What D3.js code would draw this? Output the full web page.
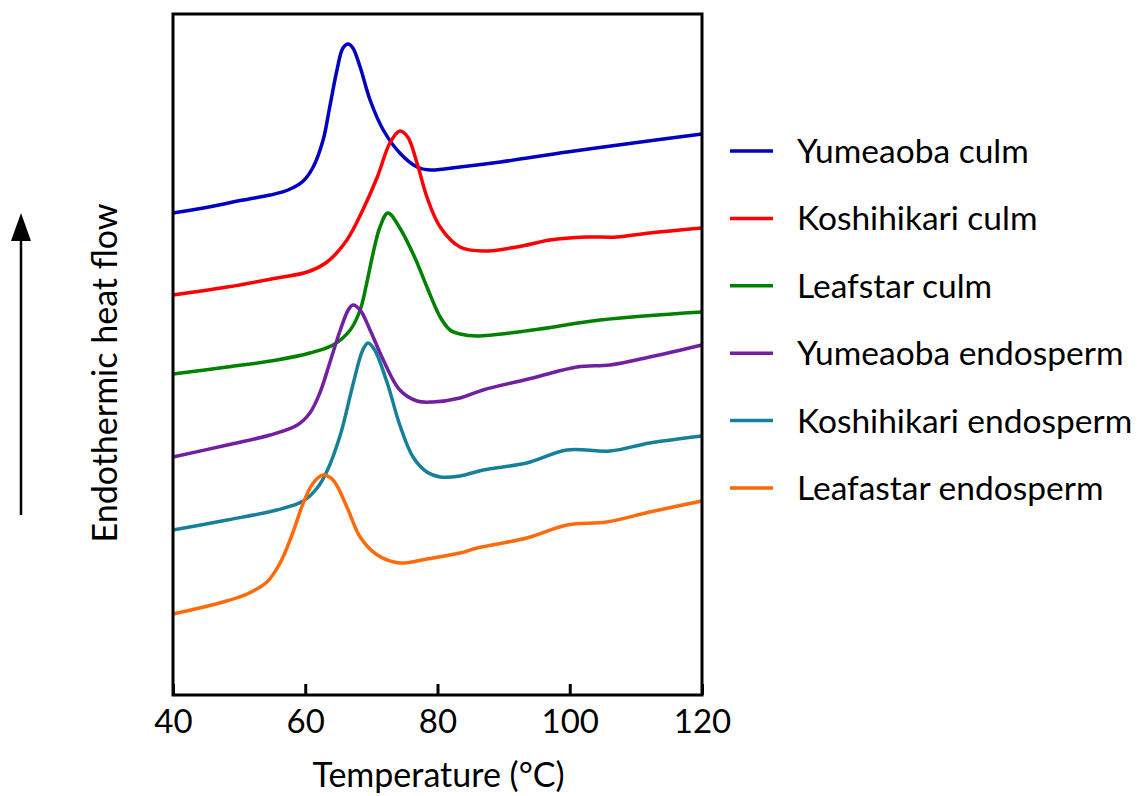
<!DOCTYPE html>
<html><head><meta charset="utf-8">
<script src="https://cdn.jsdelivr.net/npm/d3@7"></script>
<style>body{margin:0;background:#fff}svg{display:block}text{font-family:Lato,"Open Sans",sans-serif;fill:#000}</style>
</head><body>
<script>
// Temperature (°C) and heat flow (arbitrary units) for each DSC trace
const tYumeaobaCulm = [40,44.6,50.6,54.7,57.4,59.7,61.2,62.7,63.7,64.8,65.7,66.5,67.2,68.3,69.8,71.8,74.3,76.9,78.9,83.4,89.5,99.6,109.6,120];
const yumeaobaCulm = [48.2,48.7,49.5,50.0,50.5,51.4,52.8,55.5,58.8,62.5,64.7,65.1,64.7,62.8,59.5,56.5,54.2,52.8,52.5,52.8,53.3,54.3,55.2,56.1];

const tKoshihikariCulm = [40,48.2,55.7,60.3,63.3,66.3,68.7,70.9,72.8,74.3,75.5,76.9,78.4,80.4,83.4,86.9,92.0,97.0,102.6,107.1,112.1,120];
const koshihikariCulm = [40.0,40.8,41.7,42.3,43.3,45.5,48.5,51.8,55.2,56.4,55.8,53.2,49.8,46.8,44.8,44.4,44.8,45.5,45.8,45.8,46.2,46.7];

const tLeafstarCulm = [40,48.2,55.7,60.7,64.2,66.8,68.3,69.3,70.2,71.3,72.5,74.3,76.6,78.4,80.4,81.9,83.4,86.0,94.4,104.6,120];
const leafstarCulm = [32.1,32.8,33.5,34.2,35.0,36.5,38.5,41.2,44.0,46.8,48.2,46.7,43.7,40.8,37.8,36.5,36.1,35.9,36.5,37.5,38.3];

const tYumeaobaEndo = [40,48.2,54.7,58.8,60.7,62.2,63.7,65.3,66.5,67.2,68.3,69.8,71.8,74.3,76.9,79.3,83.4,86.9,94.4,101.1,106.1,112.1,120];
const yumeaobaEndo = [23.8,25.0,26.0,27.0,28.2,30.2,33.2,36.5,38.5,39.0,38.5,36.5,33.5,30.5,29.4,29.3,29.7,30.5,31.7,32.8,33.0,33.8,35.0];

const tKoshihikariEndo = [40,48.2,55.7,59.7,61.8,63.3,65.3,67.2,68.7,69.5,70.5,72.4,74.3,76.3,78.4,80.4,83.4,86.9,93.5,99.6,106.1,112.1,120];
const koshihikariEndo = [16.5,17.5,18.5,19.4,20.7,22.4,26.0,31.0,34.5,35.2,34.5,31.2,27.0,23.8,22.3,21.8,21.9,22.5,23.2,24.5,24.4,25.2,25.9];

const tLeafastarEndo = [40,47.6,51.2,54.2,56.2,58.1,59.7,61.2,62.7,64.2,66.3,68.3,70.9,74.3,78.4,83.4,86.0,93.5,99.6,105.6,112.1,120];
const leafastarEndo = [8.1,9.3,10.1,11.3,13.2,16.2,19.2,21.2,22.0,21.5,18.8,15.8,14.0,13.2,13.6,14.2,14.7,15.7,17.0,17.3,18.3,19.4];

const seriesNames = ["Yumeaoba culm","Koshihikari culm","Leafstar culm","Yumeaoba endosperm","Koshihikari endosperm","Leafastar endosperm"];
const seriesColors = ["#0000C0","#FF0000","#008000","#7020A0","#16809A","#FF6A0A"];
const xTicks = [40,60,80,100,120];

const series = [
  [tYumeaobaCulm, yumeaobaCulm],
  [tKoshihikariCulm, koshihikariCulm],
  [tLeafstarCulm, leafstarCulm],
  [tYumeaobaEndo, yumeaobaEndo],
  [tKoshihikariEndo, koshihikariEndo],
  [tLeafastarEndo, leafastarEndo]
].map((s,i)=>({name:seriesNames[i], color:seriesColors[i], pts:s[0].map((t,j)=>[t,s[1][j]])}));

const W=1139,H=796;
const L=173,R=702,T=14,B=695;
const svg=d3.select("body").append("svg").attr("width",W).attr("height",H);
const x=d3.scaleLinear().domain([40,120]).range([L,R]);
const y=d3.scaleLinear().domain([0,68.1]).range([B,T]);

const line=d3.line().x(d=>x(d[0])).y(d=>y(d[1])).curve(d3.curveCatmullRom.alpha(0.5));
svg.append("g").selectAll("path").data(series).join("path")
  .attr("d",d=>line(d.pts)).attr("fill","none").attr("stroke",d=>d.color)
  .attr("stroke-width",3.5).attr("stroke-linejoin","round");

// frame
svg.append("rect").attr("x",L).attr("y",T).attr("width",R-L).attr("height",B-T)
  .attr("fill","none").attr("stroke","#000").attr("stroke-width",3);

// bottom axis, inward ticks
const ax=svg.append("g").attr("transform",`translate(0,${B})`)
  .call(d3.axisBottom(x).tickValues(xTicks).tickSize(-11).tickPadding(28));
ax.select(".domain").remove();
ax.selectAll("line").attr("stroke","#000").attr("stroke-width",3);
ax.selectAll("text").attr("font-size",33).attr("font-family","Lato").attr("dy","0.3em");

svg.append("text").attr("x",(L+R)/2+1).attr("y",787).attr("text-anchor","middle")
  .attr("font-size",34).text("Temperature (°C)");

svg.append("text").attr("transform","translate(117,373) rotate(-90)")
  .attr("text-anchor","middle").attr("font-size",34).text("Endothermic heat flow");

// arrow
svg.append("line").attr("x1",21).attr("x2",21).attr("y1",515).attr("y2",235)
  .attr("stroke","#000").attr("stroke-width",2.5);
svg.append("path").attr("d","M21,213 L11,241 L31,241 Z").attr("fill","#000");

// legend
const lg=svg.append("g").selectAll("g").data(series).join("g")
  .attr("transform",(d,i)=>`translate(730,${151+i*67.4})`);
lg.append("line").attr("x1",0).attr("x2",43).attr("stroke",d=>d.color).attr("stroke-width",3.5);
lg.append("text").attr("x",67).attr("dy","0.36em").attr("font-size",33.5).text(d=>d.name);
</script>
</body></html>
